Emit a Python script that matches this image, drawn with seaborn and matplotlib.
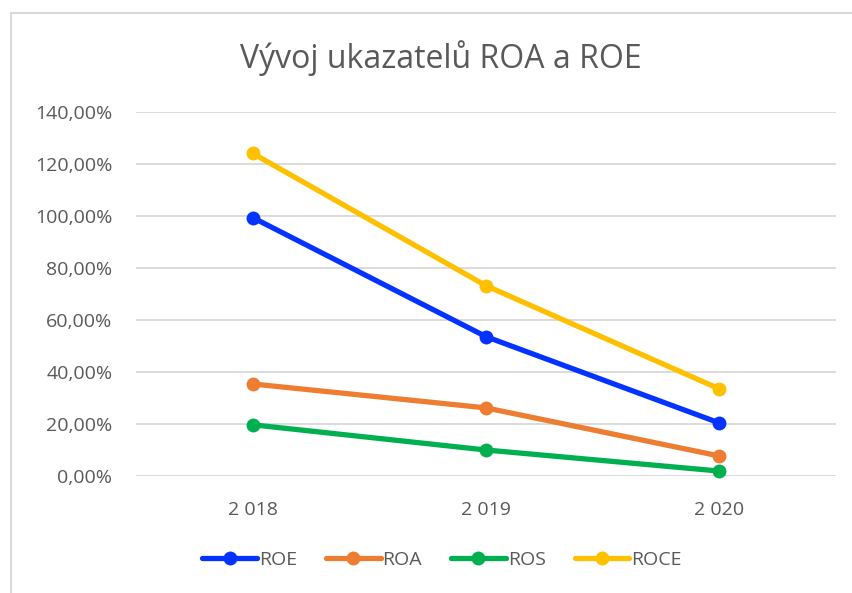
import matplotlib
matplotlib.use("Agg")
import matplotlib.pyplot as plt
import seaborn as sns
import pandas as pd
from matplotlib.lines import Line2D
from matplotlib.ticker import FuncFormatter

years = ["2 018", "2 019", "2 020"]
roe = [99.4, 53.6, 20.4]
roa = [35.4, 26.2, 7.7]
ros = [19.7, 10.0, 1.9]
roce = [124.1, 73.2, 33.5]
series_names = ["ROE", "ROA", "ROS", "ROCE"]
colors = ["#0433FF", "#ED7D31", "#00B050", "#FFC000"]
yticks = [0, 20, 40, 60, 80, 100, 120, 140]

rows = []
for name, vals in zip(series_names, [roe, roa, ros, roce]):
    for i, v in enumerate(vals):
        rows.append({"x": i, "value": v, "series": name})
df = pd.DataFrame(rows)

sns.set_theme(style="white")
plt.rcParams["font.family"] = ["Open Sans", "DejaVu Sans"]

fig = plt.figure(figsize=(8.52, 5.93), dpi=100)
ax = fig.add_axes([136/852, 1-476/593, 700/852, (476-112)/593])

sns.lineplot(data=df, x="x", y="value", hue="series", hue_order=series_names,
             palette=colors, marker="o", markersize=10, markeredgewidth=0,
             linewidth=3.8, ax=ax, legend=False, zorder=3)

ax.set_xlim(-0.5, 2.5)
ax.set_ylim(0, 140)
ax.set_yticks(yticks)
ax.yaxis.set_major_formatter(FuncFormatter(lambda v, p: f"{v:.2f}".replace(".", ",") + "%"))
ax.set_xticks(range(len(years)))
ax.set_xticklabels(years)
ax.set_xlabel("")
ax.set_ylabel("")
ax.grid(axis="y", color="#D9D9D9", linewidth=1.3, zorder=0)
ax.grid(axis="x", visible=False)
for s in ax.spines.values():
    s.set_visible(False)
ax.tick_params(axis="both", length=0, labelsize=14, labelcolor="#595959")
ax.tick_params(axis="y", pad=17)
ax.tick_params(axis="x", pad=18)
for l in ax.lines:
    l.set_clip_on(False)

fig.text(441/852, 1-58/593, "Vývoj ukazatelů ROA a ROE", ha="center", va="center",
         fontsize=23, color="#595959")

handles = [Line2D([0], [0], color=c, linewidth=3.8, marker="o", markersize=10,
                  markeredgewidth=0) for c in colors]
fig.legend(handles, series_names, loc="center", bbox_to_anchor=(442/852, 1-560/593),
           ncol=4, frameon=False, fontsize=14, labelcolor="#595959",
           handlelength=2.8, handletextpad=0.1, columnspacing=1.5)

fig.add_artist(Line2D([11/852, 1], [1-13/593, 1-13/593], transform=fig.transFigure,
                      color="#D9D9D9", linewidth=1.5))
fig.add_artist(Line2D([11/852, 11/852], [0, 1-13/593], transform=fig.transFigure,
                      color="#D9D9D9", linewidth=1.5))

fig.savefig("out.png", dpi=100)
